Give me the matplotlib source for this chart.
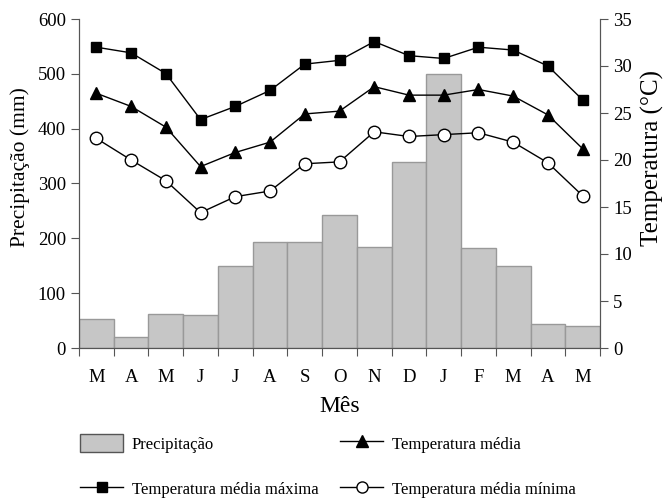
import numpy as np
import matplotlib.pyplot as plt
from matplotlib.patches import Patch
from matplotlib.lines import Line2D

plt.rcParams['font.family'] = ['Liberation Serif', 'DejaVu Serif']

meses = ['M', 'A', 'M', 'J', 'J', 'A', 'S', 'O', 'N', 'D', 'J', 'F', 'M', 'A', 'M']
precip = [53, 20, 62, 60, 150, 193, 193, 243, 185, 340, 500, 183, 150, 44, 41]
t_max = [32.0, 31.4, 29.2, 24.3, 25.7, 27.4, 30.2, 30.6, 32.6, 31.1, 30.8, 32.0, 31.7, 30.0, 26.4]
t_med = [27.1, 25.7, 23.5, 19.3, 20.8, 21.9, 24.9, 25.2, 27.8, 26.9, 26.9, 27.5, 26.8, 24.8, 21.2]
t_min = [22.3, 20.0, 17.8, 14.4, 16.1, 16.7, 19.6, 19.8, 23.0, 22.5, 22.7, 22.9, 21.9, 19.7, 16.2]

x = np.arange(len(meses))
spine_c = '#555555'

fig = plt.figure(figsize=(6.65, 4.98), dpi=100)
ax = fig.add_axes([79/665, 1-348/498, (600-79)/665, (348-19)/498])
ax.bar(x, precip, width=1.0, color='#c6c6c6', edgecolor='#999999', linewidth=1)
ax.set_xlim(-0.5, len(meses) - 0.5)
ax.set_ylim(0, 600)
ax.set_yticks(range(0, 601, 100))
ax.set_xticks(np.arange(-0.5, len(meses), 1.0))
ax.set_xticklabels([])
ax.set_xticks(x, minor=True)
ax.set_xticklabels(meses, minor=True)
ax.tick_params(axis='x', which='major', length=6, color=spine_c, direction='out')
ax.tick_params(axis='x', which='minor', length=0, pad=15, labelsize=13.5)
ax.tick_params(axis='y', length=6, color=spine_c, labelsize=13.5)
ax.set_ylabel('Precipitação (mm)', fontsize=15.5)
ax.yaxis.set_label_coords(-0.094, 0.55)
ax.set_xlabel('Mês', fontsize=17)
ax.xaxis.set_label_coords(0.5, -0.145)
ax.spines['top'].set_visible(False)
for s in ['left', 'bottom', 'right']:
    ax.spines[s].set_color(spine_c)

ax2 = ax.twinx()
ax2.set_ylim(0, 35)
ax2.set_yticks(range(0, 36, 5))
ax2.tick_params(axis='y', length=6, color=spine_c, labelsize=13.5)
ax2.set_ylabel('Temperatura (°C)', fontsize=18)
ax2.yaxis.set_label_coords(1.079, 0.578)
ax2.spines['top'].set_visible(False)
for s in ['left', 'bottom', 'right']:
    ax2.spines[s].set_color(spine_c)

ax2.plot(x, t_max, color='black', lw=1, marker='s', markersize=7)
ax2.plot(x, t_med, color='black', lw=1, marker='^', markersize=8)
ax2.plot(x, t_min, color='black', lw=1, marker='o', markersize=9,
         markerfacecolor='white', markeredgewidth=1)

handles = [
    Patch(facecolor='#c6c6c6', edgecolor='#555555', label='Precipitação'),
    Line2D([], [], color='black', lw=1, marker='s', markersize=7, label='Temperatura média máxima'),
    Line2D([], [], color='black', lw=1, marker='^', markersize=8, label='Temperatura média'),
    Line2D([], [], color='black', lw=1, marker='o', markersize=8, markerfacecolor='white',
           label='Temperatura média mínima'),
]
fig.legend(handles=handles, ncol=2, loc='upper left', bbox_to_anchor=(80/665, 1-434/498),
           frameon=False, fontsize=12, handlelength=2.6, handleheight=1.3,
           labelspacing=1.6, columnspacing=1.3, handletextpad=0.5,
           borderpad=0, borderaxespad=0)

fig.savefig('out.png', dpi=100)
